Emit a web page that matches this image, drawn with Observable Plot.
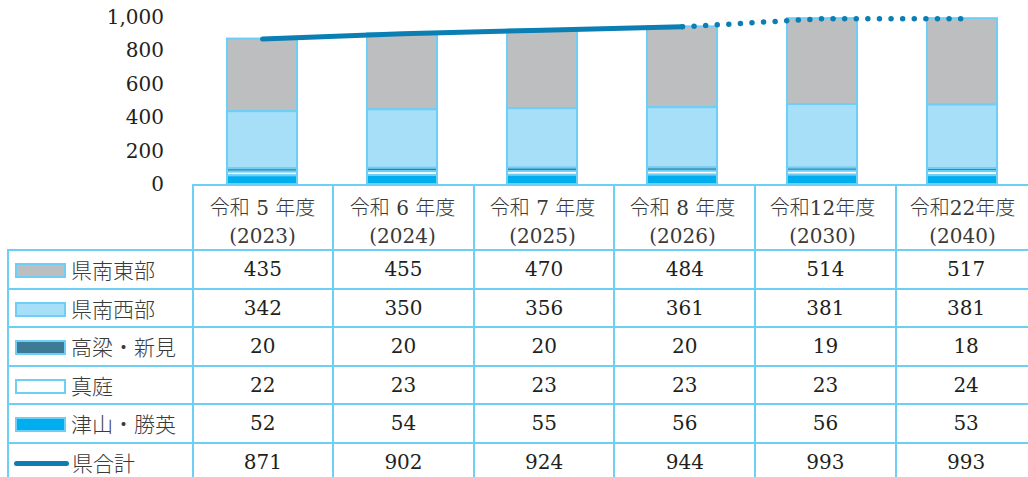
<!DOCTYPE html>
<html><head><meta charset="utf-8">
<script src="https://cdn.jsdelivr.net/npm/d3@7"></script>
<script src="https://cdn.jsdelivr.net/npm/@observablehq/plot@0.6"></script>
<style>
body{margin:0;background:#fff;}
#wrap{position:relative;width:1028px;height:477px;overflow:hidden;}
#chart{position:absolute;left:0;top:0;}
#tbl{position:absolute;left:7px;top:184px;border-collapse:collapse;table-layout:fixed;width:1030px;font-family:"DejaVu Serif","Noto Sans CJK JP",serif;color:#231f20;}
#tbl td{border:2px solid #6dcff6;padding:0;text-align:center;vertical-align:middle;font-size:20px;white-space:nowrap;overflow:hidden;}
#tbl td.lab{text-align:left;font-family:"Noto Sans CJK JP",sans-serif;font-weight:300;font-size:21px;color:#3a3a3a;}
.sw{display:inline-block;width:47px;height:11px;border:2px solid #6dcff6;vertical-align:middle;margin:0 5px 0 6px;position:relative;top:-2px;}
.ln{display:inline-block;width:55px;height:5px;border-radius:3px;vertical-align:middle;margin:0 3px 0 5px;position:relative;top:-2px;}
</style></head>
<body>
<div id="wrap"><div id="chart"></div><table id="tbl"></table></div>
<script>
const periods = ["令和 5 年度\n(2023)", "令和 6 年度\n(2024)", "令和 7 年度\n(2025)", "令和 8 年度\n(2026)", "令和12年度\n(2030)", "令和22年度\n(2040)"];
const southeast = [435, 455, 470, 484, 514, 517];
const southwest = [342, 350, 356, 361, 381, 381];
const takahashi = [20, 20, 20, 20, 19, 18];
const maniwa = [22, 23, 23, 23, 23, 24];
const tsuyama = [52, 54, 55, 56, 56, 53];
const totals = [871, 902, 924, 944, 993, 993];
const seriesNames = ["県南東部", "県南西部", "高梁・新見", "真庭", "津山・勝英"];
const seriesColors = ["#bcbec0", "#a8dff8", "#3d7a95", "#ffffff", "#00aeef"];
const totalName = "県合計";
const lineColor = "#0b7fb4";
const yTicks = [0, 200, 400, 600, 800, 1000];

const seriesValues = [southeast, southwest, takahashi, maniwa, tsuyama];
const stackRows = [];
seriesNames.forEach((name, s) => periods.forEach((p, i) => stackRows.push({period: p, series: name, value: seriesValues[s][i]})));
const totalRows = periods.map((p, i) => ({period: p, value: totals[i]}));

const chart = Plot.plot({
  width: 1028, height: 249,
  marginTop: 17, marginBottom: 65, marginLeft: 191.5, marginRight: 0,
  style: {fontFamily: "'DejaVu Serif','Noto Sans CJK JP',serif", fontSize: "20px", fontWeight: 300, color: "#231f20", background: "transparent"},
  x: {domain: periods, range: [189.5, 1033.5], paddingInner: 0.5, paddingOuter: 0.25},
  y: {domain: [0, 1000]},
  color: {domain: seriesNames, range: seriesColors},
  marks: [
    Plot.axisY({ticks: yTicks, tickSize: 0, tickPadding: 28, label: null, fontSize: 20}),
    Plot.axisX({tickSize: 0, tickPadding: 11, label: null, lineHeight: 1.4, fontSize: 20, fill: "#3a3a3a"}),
    Plot.barY(stackRows, {x: "period", y: "value", fill: "series", order: [...seriesNames].reverse(), stroke: "#6dcff6", strokeWidth: 2}),
    Plot.line(totalRows.slice(0, 4), {x: "period", y: "value", stroke: lineColor, strokeWidth: 5, strokeLinecap: "round"}),
    Plot.line(totalRows.slice(3), {x: "period", y: "value", stroke: lineColor, strokeWidth: 5.5, strokeLinecap: "round", strokeDasharray: "0 11.6"})
  ]
});
document.getElementById("chart").appendChild(chart);

// data table
const tbl = document.getElementById("tbl");
const cg = document.createElement("colgroup");
[184.5, ...periods.map(() => 140.67)].forEach(w => { const c = document.createElement("col"); c.style.width = w + "px"; cg.appendChild(c); });
tbl.appendChild(cg);
const hr = tbl.insertRow();
hr.style.height = "65px";
const h0 = hr.insertCell();
h0.style.borderTopStyle = "hidden"; h0.style.borderLeftStyle = "hidden";
periods.forEach(() => hr.insertCell());
const rowsDef = seriesNames.map((n, s) => ({name: n, color: seriesColors[s], vals: seriesValues[s], line: false}))
  .concat([{name: totalName, color: lineColor, vals: totals, line: true}]);
rowsDef.forEach(r => {
  const tr = tbl.insertRow();
  tr.style.height = "38.5px";
  const c0 = tr.insertCell();
  c0.className = "lab";
  const sw = document.createElement("span");
  sw.className = r.line ? "ln" : "sw";
  sw.style.background = r.color;
  c0.appendChild(sw);
  c0.appendChild(document.createTextNode(r.name));
  r.vals.forEach(v => { const c = tr.insertCell(); c.textContent = d3.format(",")(v); });
});
</script>
</body></html>
